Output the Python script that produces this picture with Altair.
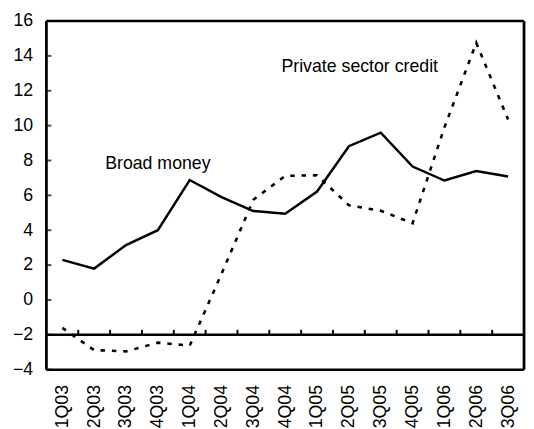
import altair as alt
import pandas as pd

quarters = ["1Q03", "2Q03", "3Q03", "4Q03", "1Q04", "2Q04", "3Q04", "4Q04",
            "1Q05", "2Q05", "3Q05", "4Q05", "1Q06", "2Q06", "3Q06"]
broad_money = [2.3, 1.8, 3.15, 4.0, 6.88, 5.9, 5.1, 4.95, 6.22, 8.82, 9.6, 7.65, 6.85, 7.4, 7.08]
private_credit = [-1.6, -2.88, -2.95, -2.45, -2.62, 1.5, 5.75, 7.12, 7.15, 5.43, 5.12, 4.4, 9.9, 14.75, 10.35]
y_ticks = [-4, -2, 0, 2, 4, 6, 8, 10, 12, 14, 16]
baseline = -2
labels = ["Broad money", "Private sector credit"]

FONT = "Liberation Sans"
INK = "black"
W, H = 485, 354
half_step = W / len(quarters) / 2
tick_units = 5 * (y_ticks[-1] - y_ticks[0]) / H

df = pd.DataFrame({"quarter": quarters, "broad": broad_money, "credit": private_credit})

xscale = alt.Scale(domain=quarters, type="point", padding=0.5)
yscale = alt.Scale(domain=[y_ticks[0], y_ticks[-1]], nice=False, zero=False)

xaxis = alt.Axis(title=None, labelAngle=-90, domain=False, ticks=False, tickSize=0,
                 labelPadding=15, labelFontSize=18, labelFont=FONT, labelColor="black",
                 grid=False)
yaxis = alt.Axis(title=None, values=y_ticks, domain=False, ticks=False, tickSize=0,
                 labelPadding=14, labelFontSize=18, labelFont=FONT, labelColor="black",
                 grid=False, format="d")


def X(field):
    return alt.X(field, scale=xscale, axis=xaxis)


def Y(field):
    return alt.Y(field, scale=yscale, axis=yaxis)


base = alt.Chart(df)

broad_line = base.mark_line(color="black", strokeWidth=2.5).encode(
    x=X("quarter:O"), y=Y("broad:Q"))

credit_line = base.mark_line(color="black", strokeWidth=2.6, strokeDash=[4.5, 7]).encode(
    x=X("quarter:O"), y=Y("credit:Q"))

# bottom frame edge, baseline at -2, top frame edge
hrules = alt.Chart(pd.DataFrame({"v": [y_ticks[0], baseline, y_ticks[-1]]})).mark_rule(
    color=INK, strokeWidth=2.5).encode(y=Y("v:Q"))

x_ticks = alt.Chart(pd.DataFrame({"quarter": quarters[:-1]})).mark_rule(
    color=INK, strokeWidth=2, xOffset=half_step).encode(
    x=X("quarter:O"),
    y=alt.Y(datum=baseline, scale=yscale, axis=yaxis),
    y2=alt.Y2(datum=baseline + tick_units))

y_tick_marks = alt.Chart(pd.DataFrame({"v": y_ticks})).mark_tick(
    color=INK, thickness=2, size=5, orient="horizontal").encode(
    y=Y("v:Q"), x=alt.value(2.5))

left_edge = alt.Chart(pd.DataFrame({"v": [0]})).mark_rule(
    color=INK, strokeWidth=2.8).encode(x=alt.value(0))
right_edge = alt.Chart(pd.DataFrame({"v": [0]})).mark_rule(
    color=INK, strokeWidth=2.8).encode(x=alt.value(W))

text_bm = alt.Chart(pd.DataFrame({"t": [labels[0]]})).mark_text(
    font=FONT, fontSize=18, color="black", align="center", baseline="middle").encode(
    x=alt.X(datum="4Q03", scale=xscale, axis=xaxis),
    y=alt.Y(datum=7.8, scale=yscale, axis=yaxis),
    text="t:N")

text_pc = alt.Chart(pd.DataFrame({"t": [labels[1]]})).mark_text(
    font=FONT, fontSize=18, color="black", align="center", baseline="middle", dx=11).encode(
    x=alt.X(datum="2Q05", scale=xscale, axis=xaxis),
    y=alt.Y(datum=13.35, scale=yscale, axis=yaxis),
    text="t:N")

chart = alt.layer(
    hrules, left_edge, right_edge, x_ticks, y_tick_marks, broad_line, credit_line,
    text_bm, text_pc
).properties(
    width=W, height=H,
    padding={"left": 39, "top": 10, "right": 2, "bottom": 57},
    autosize=alt.AutoSizeParams(type="none"),
    background="white",
).configure_view(stroke=None)

chart.save("out.html", embed_options={"renderer": "svg", "actions": False})
